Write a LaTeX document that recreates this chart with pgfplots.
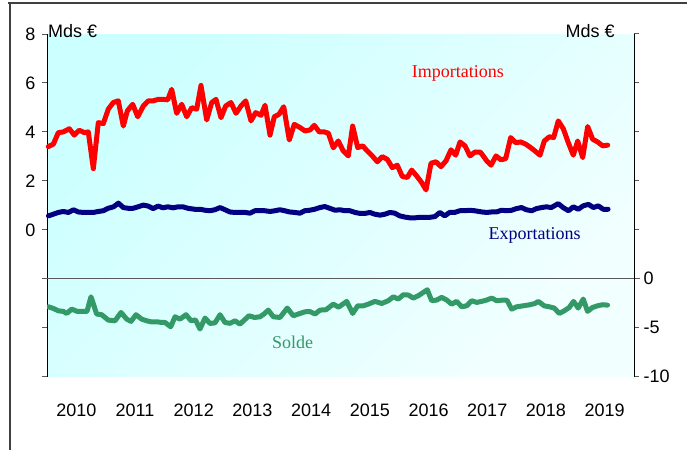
\documentclass[border=0pt]{standalone}
\usepackage{fontspec}
\setmainfont{Liberation Sans}
\newfontfamily\tmr{Liberation Serif}
\usepackage{pgfplots}
\pgfplotsset{compat=1.18}
\definecolor{imp}{RGB}{255,0,0}
\definecolor{expc}{RGB}{0,0,128}
\definecolor{sol}{RGB}{51,153,102}
\definecolor{bgA}{RGB}{204,255,255}
\definecolor{bgB}{RGB}{242,255,255}
\definecolor{framec}{RGB}{64,64,64}
\begin{document}
\begin{tikzpicture}
\path[use as bounding box] (0,0) rectangle (687bp,450bp);
\draw[framec, line width=1.5bp] (8bp,447bp) -- (687bp,447bp);
\draw[framec, line width=1.5bp] (10bp,447bp) -- (10bp,0);
\begin{axis}[
  at={(47bp,73.3bp)}, anchor=south west, scale only axis,
  width=587bp, height=342.7bp,
  xmin=0, xmax=120, ymin=-6, ymax=8,
  clip=false,
  axis background/.style={shade, top color=bgA, bottom color=bgB, shading angle=45},
  axis y line*=left, axis x line*=bottom,
  x axis line style={draw=none},
  y axis line style={black, line width=1bp},
  tick align=outside, major tick length=5bp,
  ytick={-6,-4,...,8}, yticklabels={,,,0,2,4,6,8},
  ytick style={gray!70!black, line width=1bp},
  yticklabel style={xshift=-3bp},
  xtick={6,18,...,114},
  xticklabels={2010,2011,2012,2013,2014,2015,2016,2017,2018,2019},
  xtick style={draw=none},
  xticklabel style={anchor=base, yshift=-35bp},
  tick label style={font=\fontsize{18bp}{20bp}\selectfont},
  every axis plot/.append style={line width=5bp, line join=round, line cap=round},
]
\draw[gray!70!black, line width=1.2bp] ([xshift=-5bp]axis cs:0,-2) -- ([xshift=6bp]axis cs:120,-2);
\addplot[imp, no markers] coordinates {
(0.27,3.40)(1.29,3.50)(2.31,3.97)(3.33,4.00)(4.56,4.13)(5.58,3.87)(6.60,4.07)(7.63,3.97)(8.44,4.00)(9.47,2.50)(10.49,4.38)(11.51,4.34)(12.53,4.93)(13.55,5.20)(14.58,5.27)(15.60,4.24)(16.42,4.86)(17.52,5.13)(18.54,4.62)(19.69,5.06)(20.71,5.27)(21.73,5.27)(22.75,5.33)(23.77,5.33)(24.67,5.31)(25.49,5.74)(26.51,4.76)(27.54,5.13)(28.56,4.62)(29.58,4.99)(30.60,4.93)(31.48,5.90)(32.65,4.49)(33.67,5.20)(34.55,5.33)(35.57,4.58)(36.53,5.06)(37.61,5.20)(38.64,4.76)(39.66,5.06)(40.62,5.27)(41.70,4.45)(42.66,4.79)(43.75,4.68)(44.57,5.09)(45.59,3.87)(46.47,4.62)(47.43,4.72)(48.39,5.03)(49.53,3.67)(50.55,4.31)(51.72,4.18)(52.74,4.04)(53.76,4.08)(54.64,4.27)(55.66,4.00)(56.69,4.00)(57.51,3.95)(58.53,3.35)(59.55,3.63)(60.57,3.22)(61.59,3.02)(62.49,4.24)(63.52,3.36)(64.54,3.43)(65.48,3.22)(66.50,3.02)(67.52,2.78)(68.54,2.99)(69.57,2.88)(70.59,2.54)(71.61,2.64)(72.63,2.18)(73.65,2.14)(74.55,2.44)(75.58,2.20)(76.60,1.93)(77.48,1.63)(78.50,2.72)(79.52,2.78)(80.54,2.58)(81.57,2.82)(82.59,3.27)(83.55,3.05)(84.43,3.59)(85.45,3.43)(86.47,3.02)(87.49,3.18)(88.62,3.17)(89.89,2.82)(90.77,2.64)(91.79,3.02)(92.81,2.86)(93.77,2.91)(94.79,3.77)(95.81,3.56)(96.84,3.59)(97.86,3.50)(98.88,3.36)(99.76,3.22)(100.78,3.05)(101.66,3.63)(102.68,3.80)(103.58,3.77)(104.52,4.45)(105.55,4.13)(106.57,3.56)(107.59,3.05)(108.49,3.63)(109.51,2.95)(110.53,4.22)(111.55,3.70)(112.57,3.59)(113.60,3.43)(114.62,3.46)
};
\addplot[expc, no markers] coordinates {
(0.3,0.57)(1.3,0.64)(2.3,0.71)(3.3,0.75)(4.4,0.71)(5.4,0.82)(6.4,0.73)(7.4,0.71)(8.4,0.71)(9.5,0.71)(10.5,0.75)(11.5,0.78)(12.5,0.88)(13.6,0.94)(14.6,1.09)(15.6,0.91)(16.6,0.88)(17.6,0.88)(18.6,0.94)(19.7,1.01)(20.7,0.97)(21.7,0.87)(22.7,0.97)(23.7,0.90)(24.7,0.94)(25.8,0.90)(26.8,0.94)(27.8,0.94)(28.8,0.88)
(30.2,0.84)(31.3,0.84)(32.3,0.80)(33.3,0.78)(34.3,0.82)(35.4,0.91)(36.4,0.82)(37.4,0.73)(38.4,0.71)(39.4,0.71)(40.5,0.71)(41.5,0.68)(42.5,0.78)(43.5,0.78)(44.5,0.78)(45.6,0.75)(46.6,0.78)(47.6,0.82)(48.6,0.78)(49.6,0.73)(50.7,0.71)(51.7,0.68)(52.7,0.78)(53.7,0.80)(54.7,0.84)(55.8,0.91)(56.8,0.95)(57.8,0.88)
(58.9,0.80)(59.9,0.82)(60.9,0.78)(61.9,0.78)(63.0,0.71)(64.0,0.67)(65.0,0.67)(66.0,0.71)(67.0,0.64)(68.1,0.60)(69.1,0.64)(70.1,0.71)(71.1,0.68)(72.1,0.57)(73.2,0.52)(74.2,0.49)(75.2,0.49)(76.2,0.51)(77.2,0.51)(78.2,0.51)(79.3,0.54)(80.3,0.71)(81.3,0.57)(82.3,0.71)(83.3,0.71)(84.4,0.78)(85.4,0.78)(86.4,0.80)(87.4,0.78)
(88.9,0.73)(89.9,0.71)(90.9,0.73)(91.9,0.73)(92.9,0.80)(94.0,0.78)(95.0,0.80)(96.0,0.87)(97.0,0.91)(98.0,0.82)(99.1,0.78)(100.1,0.87)(101.1,0.91)(102.1,0.94)(103.1,0.91)(104.5,1.07)(105.5,0.91)(106.6,0.78)(107.6,0.94)(108.6,0.84)(109.6,0.98)(110.7,1.04)(111.7,0.91)(112.7,0.98)(113.7,0.84)(114.7,0.84)
};
\node[text=imp, font=\tmr\fontsize{18bp}{20bp}\selectfont] at (axis cs:84,6.4) {Importations};
\node[text=expc, font=\tmr\fontsize{18bp}{20bp}\selectfont] at (axis cs:99.7,-0.23) {Exportations};
\node[text=sol, font=\tmr\fontsize{18bp}{20bp}\selectfont] at (axis cs:50.2,-4.6) {Solde};
\node[anchor=west, inner sep=0pt, font=\fontsize{18bp}{20bp}\selectfont] at (axis cs:0.2,8.13) {Mds €};
\node[anchor=east, inner sep=0pt, font=\fontsize{18bp}{20bp}\selectfont] at (axis cs:116.1,8.13) {Mds €};
\end{axis}
\begin{axis}[
  at={(47bp,73.3bp)}, anchor=south west, scale only axis,
  width=587bp, height=342.7bp,
  xmin=0, xmax=120, ymin=-10, ymax=25,
  hide x axis,
  axis y line*=right,
  y axis line style={black, line width=1bp},
  tick align=outside, major tick length=5bp,
  ytick={-10,-5,...,25}, yticklabels={-10,-5,0,,,,,},
  ytick style={gray!70!black, line width=1bp},
  yticklabel style={font=\fontsize{18bp}{20bp}\selectfont, xshift=1bp},
  every axis plot/.append style={line width=5bp, line join=round, line cap=round},
]
\addplot[sol, no markers] coordinates {
(0.27,-2.86)(1.29,-3.03)(2.31,-3.27)(3.33,-3.33)(4.03,-3.54)(5.05,-3.10)(6.19,-3.33)(7.16,-3.33)(8.18,-3.33)(8.99,-1.84)(10.16,-3.60)(11.18,-3.67)(12.53,-4.22)(13.90,-4.29)(15.13,-3.44)(16.29,-4.12)(17.17,-4.35)(18.19,-3.67)(19.36,-4.12)(20.38,-4.29)(21.36,-4.40)(22.43,-4.39)(23.30,-4.45)(24.12,-4.46)(25.29,-4.90)(26.17,-3.88)(27.19,-4.12)(28.42,-3.67)(29.44,-4.29)(30.36,-4.20)(31.28,-5.13)(32.30,-4.01)(33.32,-4.56)(34.34,-4.50)(35.37,-3.67)(36.39,-4.46)(37.41,-4.55)(38.43,-4.29)(39.45,-4.63)(40.37,-4.20)(41.29,-3.78)(42.42,-3.95)(43.54,-3.88)(44.36,-3.60)(45.24,-3.20)(46.26,-3.88)(47.63,-3.95)(49.12,-2.99)(50.35,-3.78)(51.37,-3.60)(52.74,-3.37)(53.76,-3.35)(54.79,-3.60)(55.81,-3.20)(57.04,-3.16)(58.53,-2.59)(59.6,-2.90)(61.27,-2.31)(62.49,-3.54)(63.52,-2.76)(64.66,-2.76)(65.68,-2.59)(67.05,-2.31)(68.42,-2.52)(69.77,-2.24)(70.79,-1.84)(71.82,-2.07)(72.84,-1.63)(73.86,-1.66)(74.88,-1.97)(75.90,-1.73)(76.93,-1.39)(77.74,-1.12)(78.64,-2.24)(79.66,-2.17)(80.69,-1.90)(81.71,-2.17)(82.73,-2.59)(83.75,-2.31)(84.78,-2.86)(85.80,-2.76)(86.82,-2.24)(87.84,-2.41)(88.86,-2.31)(89.89,-2.17)(90.91,-1.97)(91.93,-2.24)(93.28,-2.17)(94.04,-2.20)(95.00,-3.10)(96.02,-2.86)(97.37,-2.76)(98.74,-2.65)(99.76,-2.52)(100.43,-2.31)(101.65,-2.76)(102.67,-2.86)(103.70,-2.99)(104.72,-3.54)(105.74,-3.27)(106.76,-2.93)(107.64,-2.31)(108.60,-2.99)(109.62,-2.07)(110.50,-3.33)(111.52,-2.93)(112.55,-2.76)(113.57,-2.65)(114.59,-2.69)
};
\end{axis}
\end{tikzpicture}
\end{document}
